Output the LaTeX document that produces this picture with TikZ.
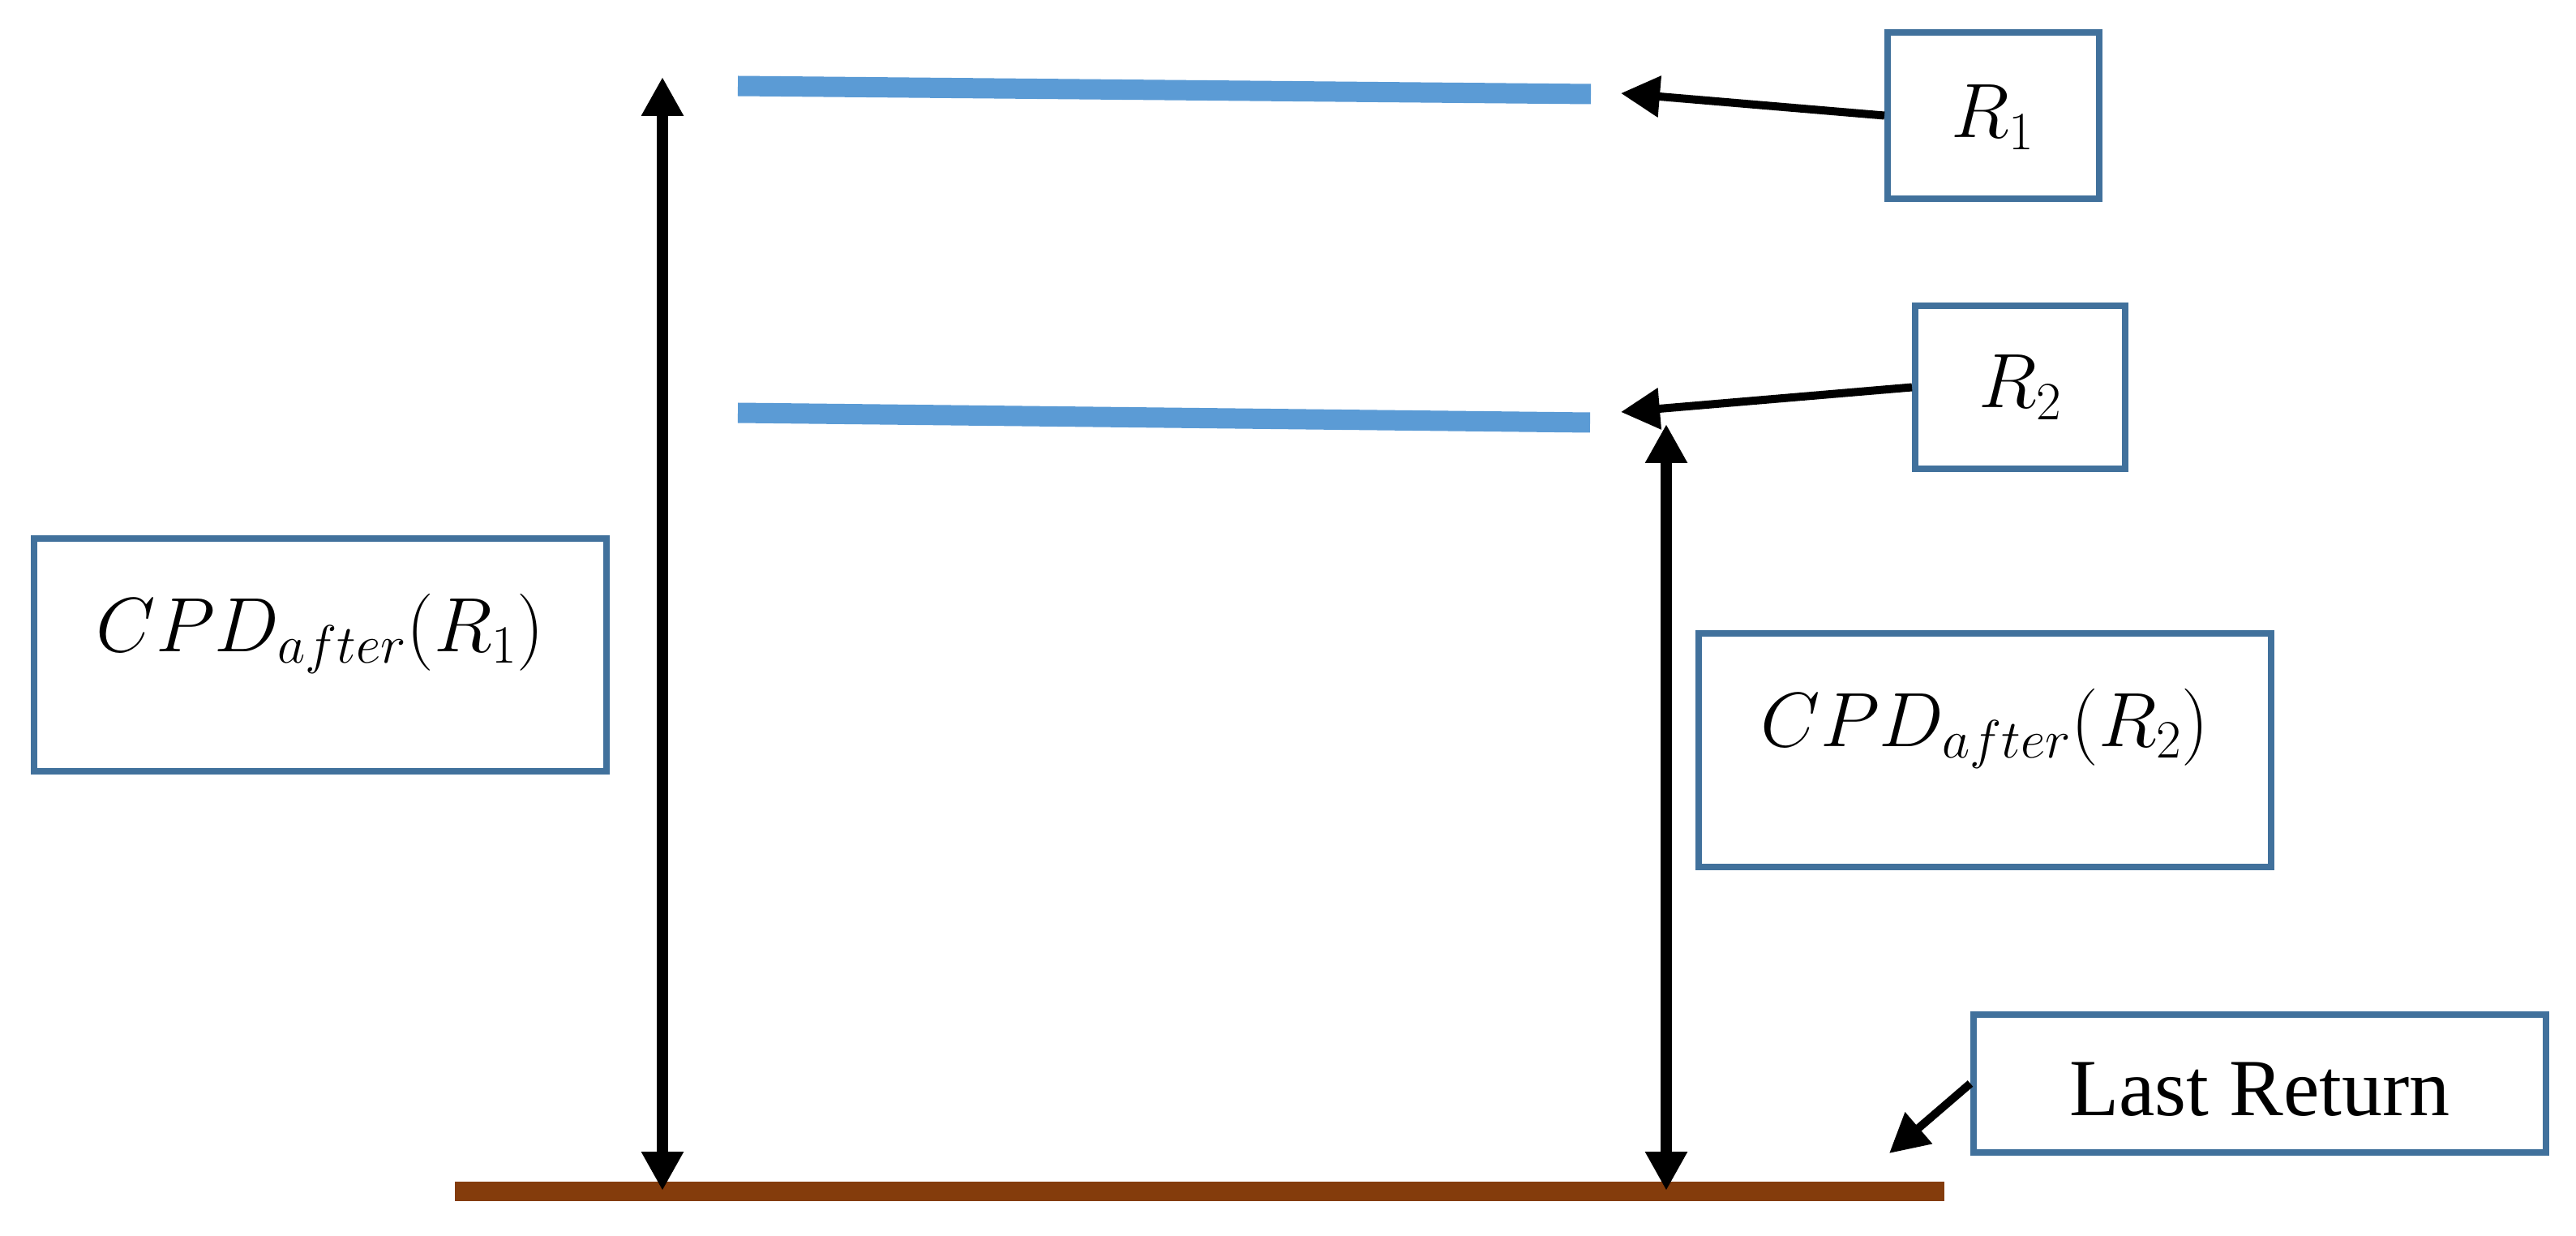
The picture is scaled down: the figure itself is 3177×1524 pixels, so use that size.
\RequirePackage{fix-cm}
\documentclass[tikz,border=0pt]{standalone}
\usepackage{fontspec}
\setmainfont{Liberation Serif}
\usetikzlibrary{arrows.meta,fit}
\definecolor{boxblue}{HTML}{41719C}
\definecolor{lineblue}{HTML}{5B9BD5}
\definecolor{groundbrown}{HTML}{843C0C}
\tikzset{
  boxstyle/.style={draw=boxblue, line width=4pt, inner sep=0pt, fill=white},
  mathlabel/.style={anchor=base, inner sep=0pt, font=\fontsize{47.5pt}{57pt}\selectfont},
  textlabel/.style={anchor=base, inner sep=0pt, font=\fontsize{50pt}{60pt}\selectfont},
  levelline/.style={draw=lineblue, line width=12.5pt},
  groundline/.style={draw=groundbrown, line width=12pt},
  pointer/.style={draw=black, line width=5pt, -{Triangle[width=24.5pt,length=24pt]}},
  span/.style={draw=black, line width=7pt, {Triangle[width=24.5pt,length=24pt]}-{Triangle[width=24.5pt,length=24pt]}}
}
\begin{document}
\begin{tikzpicture}[x=0.5pt,y=-0.5pt]
  \useasboundingbox (0,0) rectangle (3177,1524);
  \fill[white] (0,0) rectangle (3177,1524);

  % level lines
  \coordinate (l1a) at (910,106);
  \coordinate (l1b) at (1962,116);
  \coordinate (l2a) at (910,509);
  \coordinate (l2b) at (1961,521);
  \coordinate (ga) at (561,1469);
  \coordinate (gb) at (2398,1469);
  \draw[levelline] (l1a) -- (l1b);
  \draw[levelline] (l2a) -- (l2b);
  \draw[groundline] (ga) -- (gb);

  % boxes
  \node[boxstyle, fit={(2328,40) (2589,245)}] (r1) {};
  \node[boxstyle, fit={(2362,377) (2621,578)}] (r2) {};
  \node[boxstyle, fit={(42,664) (748,951)}] (cpd1) {};
  \node[boxstyle, fit={(2095,781) (2801,1069)}] (cpd2) {};
  \node[boxstyle, fit={(2434,1251) (3140,1421)}] (lr) {};

  % labels
  \node[mathlabel] (r1t) at (2458,170) {$R_1$};
  \node[mathlabel] (r2t) at (2492,503) {$R_2$};
  \node[mathlabel] (cpd1t) at (395,803) {$CPD_{after}(R_1)$};
  \node[mathlabel] (cpd2t) at (2448,920) {$CPD_{after}(R_2)$};
  \node[textlabel] (lrt) at (2787,1375) {Last Return};

  % vertical spans
  \coordinate (s1top) at (817,95);
  \coordinate (s1bot) at (817,1468);
  \coordinate (s2top) at (2055,523);
  \coordinate (s2bot) at (2055,1468);
  \draw[span] (s1top) -- (s1bot);
  \draw[span] (s2top) -- (s2bot);

  % pointers
  \coordinate (p1) at (1999,115);
  \coordinate (p2) at (1999,508);
  \coordinate (p3) at (2330,1422);
  \draw[pointer] (r1.west) -- (p1);
  \draw[pointer] (r2.west) -- (p2);
  \draw[pointer] (lr.west) -- (p3);
\end{tikzpicture}
\end{document}
